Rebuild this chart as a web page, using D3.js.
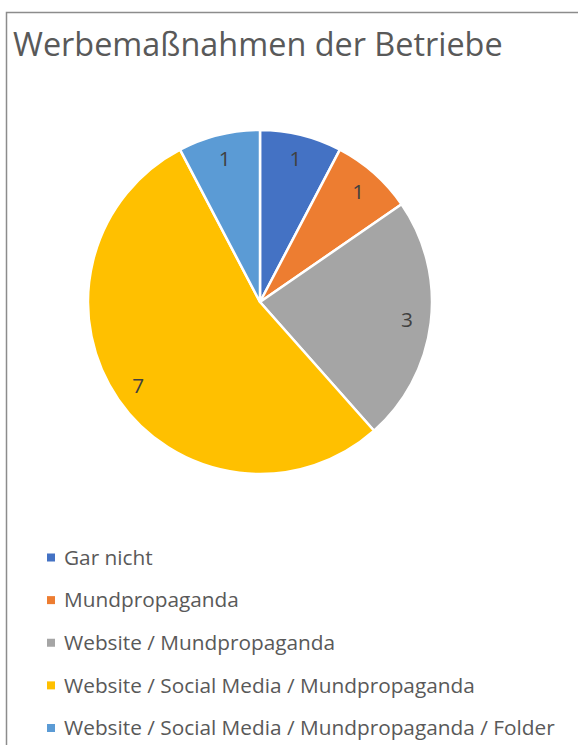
<!DOCTYPE html>
<html>
<head>
<meta charset="utf-8">
<script src="https://cdn.jsdelivr.net/npm/d3@7"></script>
<style>
  body { margin: 0; background: #fff; }
  svg { display: block; font-family: "Segoe UI", "Open Sans", sans-serif; }
</style>
</head>
<body>
<div id="chart"></div>
<script>
var categories = [
  'Gar nicht',
  'Mundpropaganda',
  'Website / Mundpropaganda',
  'Website / Social Media / Mundpropaganda',
  'Website / Social Media / Mundpropaganda / Folder'
];
var values = [1, 1, 3, 7, 1];
var colors = ['#4472c4', '#ed7d31', '#a5a5a5', '#ffc000', '#5b9bd5'];

var width = 578, height = 745;
var cx = 260, cy = 302, radius = 172;

var svg = d3.select('#chart').append('svg')
  .attr('width', width)
  .attr('height', height);

// chart area border (continues past the picture on right and bottom)
svg.append('rect')
  .attr('x', 6.5)
  .attr('y', 12.5)
  .attr('width', 600)
  .attr('height', 800)
  .attr('fill', '#fff')
  .attr('stroke', '#8c8c8c')
  .attr('stroke-width', 1.5);

svg.append('text')
  .attr('x', 13)
  .attr('y', 56)
  .attr('fill', '#595959')
  .style('font-size', '32.4px')
  .text('Werbemaßnahmen der Betriebe');

var pie = d3.pie().sort(null).value((d) => d);
var arc = d3.arc().innerRadius(0).outerRadius(radius);
var labelArc = d3.arc().innerRadius(radius * 0.86).outerRadius(radius * 0.86);

var g = svg.append('g')
  .attr('transform', 'translate(' + cx + ',' + cy + ')');

var arcs = pie(values);

g.selectAll('.slice')
  .data(arcs)
  .enter().append('path')
  .attr('class', 'slice')
  .attr('d', arc)
  .attr('fill', (d, i) => colors[i])
  .attr('stroke', '#fff')
  .attr('stroke-width', 2.5)
  .attr('stroke-linejoin', 'round');

g.selectAll('.label')
  .data(arcs)
  .enter().append('text')
  .attr('class', 'label')
  .attr('transform', (d) => 'translate(' + labelArc.centroid(d) + ')')
  .attr('text-anchor', 'middle')
  .attr('dy', '0.35em')
  .attr('fill', '#404040')
  .style('font-size', '20.8px')
  .text((d) => d.data);

// legend
var legend = svg.append('g');
var rowY = d3.scalePoint()
  .domain(categories)
  .range([557.5, 728]);

var rows = legend.selectAll('.row')
  .data(categories)
  .enter().append('g')
  .attr('class', 'row')
  .attr('transform', (d) => 'translate(0,' + rowY(d) + ')');

rows.append('rect')
  .attr('x', 47)
  .attr('y', -4)
  .attr('width', 8)
  .attr('height', 8)
  .attr('fill', (d, i) => colors[i]);

rows.append('text')
  .attr('x', 64)
  .attr('dy', '0.35em')
  .attr('fill', '#595959')
  .style('font-size', '20.8px')
  .text((d) => d);
</script>
</body>
</html>
